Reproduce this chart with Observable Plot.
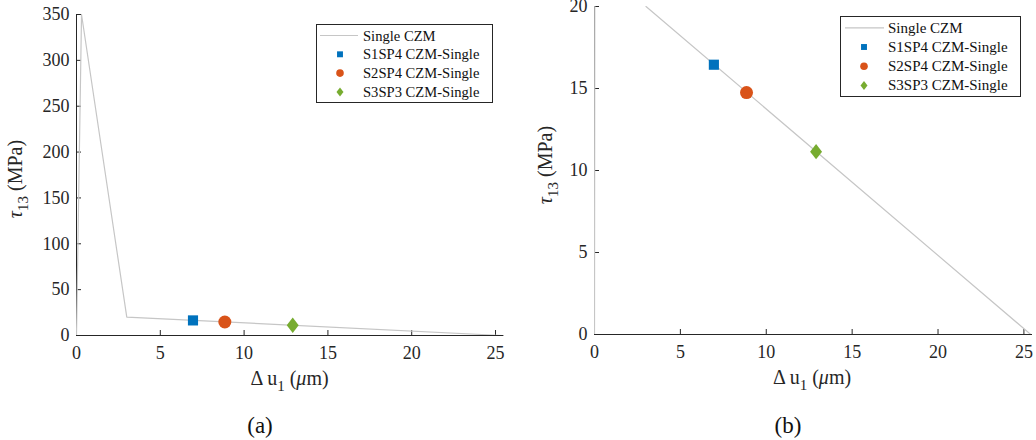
<!DOCTYPE html>
<html>
<head>
<meta charset="utf-8">
<script src="https://cdn.jsdelivr.net/npm/d3@7"></script>
<script src="https://cdn.jsdelivr.net/npm/@observablehq/plot@0.6"></script>
<style>
  html, body { margin: 0; padding: 0; background: #fff; }
  #wrap { position: relative; width: 1036px; height: 440px; display: flex; font-family: "Liberation Serif", "DejaVu Serif", serif; }
  #wrap svg, #wrap svg text, #wrap svg tspan { font-family: "Liberation Serif", "DejaVu Serif", serif !important; }
  .panel { position: relative; width: 518px; height: 440px; }
  .caption { position: absolute; top: 412px; left: 0; height: 28px; line-height: 28px; font-size: 23px; text-align: center; color: #111; font-family: "Liberation Serif", serif; }
  .legend { position: absolute; }
</style>
</head>
<body>
<div id="wrap">
  <div class="panel" id="pa"></div>
  <div class="panel" id="pb"></div>
</div>
<script>
// ---- data ----
const lineX = [0, 0.3, 3, 25.4];
const lineY = [0, 350, 20, 0];
const lineName = "Single CZM";
const seriesNames = ["S1SP4 CZM-Single", "S2SP4 CZM-Single", "S3SP3 CZM-Single"];
const seriesX = [6.95, 8.85, 12.9];
const seriesY = [16.45, 14.75, 11.15];
const seriesColors = ["#0072BD", "#D95319", "#77AC30"];
const seriesShapes = ["square", "circle", "diamond"];
const xTicks = [0, 5, 10, 15, 20, 25];
const yTicksA = [0, 50, 100, 150, 200, 250, 300, 350];
const yTicksB = [0, 5, 10, 15, 20];
const captions = ["(a)", "(b)"];

// ---- tables ----
const lineData = lineX.map((x, i) => ({x, y: lineY[i]}));
const pointData = seriesNames.map((name, i) => ({name, x: seriesX[i], y: seriesY[i]}));

// ---- custom symbols ----
const symbols = {
  square: {draw(ctx, size) { const r = Math.sqrt(size / Math.PI) * 0.78; ctx.rect(-r, -r, 2 * r, 2 * r); }},
  circle: {draw(ctx, size) { const r = Math.sqrt(size / Math.PI); ctx.moveTo(r, 0); ctx.arc(0, 0, r, 0, 2 * Math.PI); ctx.closePath(); }},
  diamond: {draw(ctx, size) { const r = Math.sqrt(size / Math.PI); const w = r * 0.92, h = r * 1.18;
    ctx.moveTo(0, -h); ctx.lineTo(w, 0); ctx.lineTo(0, h); ctx.lineTo(-w, 0); ctx.closePath(); }}
};

const AX = "#262626";
const LINE = "#c6c6c6";
const SERIF = "'Liberation Serif', serif";

function panel(el, cfg) {
  const chart = Plot.plot({
    width: 518, height: 395,
    marginLeft: cfg.ml, marginRight: cfg.mr, marginTop: cfg.mt, marginBottom: cfg.mb,
    style: {fontFamily: SERIF, fontSize: "18px", color: AX, background: "#fff", overflow: "visible"},
    x: {domain: [0, 25.5]},
    y: {domain: cfg.yDomain},
    marks: [
      Plot.ruleY([0], {stroke: AX, strokeWidth: 1}),
      Plot.ruleX([0], {stroke: AX, strokeWidth: 1}),
      Plot.axisX(xTicks, {tickSize: -5, tickPadding: 16, tickFormat: d => String(d), label: null, fontSize: 18}),
      Plot.axisY(cfg.yTicks, {tickSize: -5, tickPadding: 12, tickFormat: d => String(d), label: null, fontSize: 18}),
      Plot.line(lineData, {x: "x", y: "y", stroke: LINE, strokeWidth: 1.2, clip: true}),
      ...seriesNames.map((n, i) => Plot.dot(pointData.filter(d => d.name === n), {
        x: "x", y: "y", fill: seriesColors[i], stroke: "none", r: 6.5, symbol: symbols[seriesShapes[i]]
      }))
    ]
  });
  el.appendChild(chart);
  const svg = d3.select(chart);

  // y label: tau_13 (MPa)
  const yl = svg.append("text")
    .attr("transform", `translate(${cfg.ylx},${cfg.yly}) rotate(-90)`)
    .attr("text-anchor", "middle").attr("font-size", 20).attr("fill", AX)
    .style("font-family", SERIF);
  yl.append("tspan").attr("font-style", "italic").text("τ");
  yl.append("tspan").attr("dy", 6).attr("font-size", 15).text("13");
  yl.append("tspan").attr("dy", -6).text(" (MPa)");

  // x label: Δ u_1 (μm)
  const xl = svg.append("text")
    .attr("x", cfg.xlx).attr("y", cfg.xly)
    .attr("text-anchor", "middle").attr("font-size", 20).attr("fill", AX)
    .style("font-family", SERIF);
  xl.append("tspan").text("Δ u");
  xl.append("tspan").attr("dy", 6).attr("font-size", 15).text("1");
  xl.append("tspan").attr("dy", -6).text(" (");
  xl.append("tspan").attr("font-style", "italic").text("μ");
  xl.append("tspan").text("m)");

  // legend
  const L = cfg.legend;
  const lg = d3.select(el).append("svg").attr("class", "legend")
    .style("left", L.left + "px").style("top", L.top + "px")
    .attr("width", L.w + 2).attr("height", L.h + 2);
  lg.append("rect").attr("x", 0.5).attr("y", 0.5).attr("width", L.w).attr("height", L.h)
    .attr("fill", "#fff").attr("stroke", AX).attr("stroke-width", 1);
  const rowY = i => L.row0 + i * L.dy;
  lg.append("line").attr("x1", L.lx1).attr("x2", L.lx2).attr("y1", rowY(0)).attr("y2", rowY(0))
    .attr("stroke", LINE).attr("stroke-width", 1.2);
  const labels = [lineName, ...seriesNames];
  labels.forEach((t, i) => {
    lg.append("text").attr("x", L.tx).attr("y", rowY(i) + 5).attr("font-size", L.fs)
      .attr("fill", "#111").style("font-family", SERIF).text(t);
  });
  seriesNames.forEach((n, i) => {
    const p = d3.path();
    symbols[seriesShapes[i]].draw(p, Math.PI * 3.8 * 3.8);
    lg.append("path").attr("d", p.toString()).attr("fill", seriesColors[i])
      .attr("transform", `translate(${L.mx},${rowY(i + 1)})`);
  });

  d3.select(el).append("div").attr("class", "caption")
    .style("width", cfg.capW + "px").text(cfg.caption);
}

panel(document.getElementById("pa"), {
  ml: 76, mr: 14.6, mt: 14, mb: 60, yDomain: [0, 350], yTicks: yTicksA,
  ylx: 22, yly: 179, xlx: 289.5, xly: 385, caption: captions[0], capW: 520,
  legend: {left: 316, top: 24, w: 176, h: 78, row0: 11.5, dy: 18.8, lx1: 4, lx2: 42, mx: 24, tx: 47, fs: 14.6}
});
panel(document.getElementById("pb"), {
  ml: 76, mr: 4, mt: 6, mb: 61, yDomain: [0, 20], yTicks: yTicksB,
  ylx: 34, yly: 165, xlx: 294, xly: 384, caption: captions[1], capW: 540,
  legend: {left: 322, top: 16, w: 180, h: 80, row0: 11.8, dy: 19.2, lx1: 5, lx2: 44, mx: 24, tx: 48, fs: 15}
});
</script>
</body>
</html>
